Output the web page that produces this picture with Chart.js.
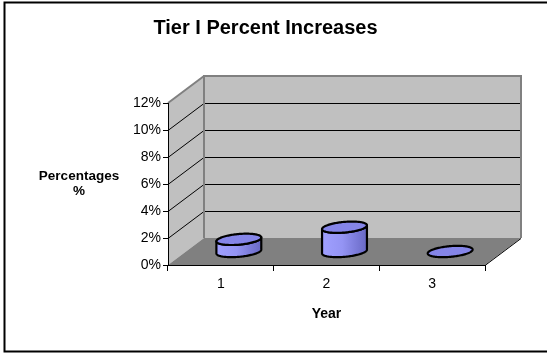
<!DOCTYPE html>
<html><head><meta charset="utf-8">
<script src="https://cdn.jsdelivr.net/npm/chart.js@4/dist/chart.umd.min.js"></script>
<style>html,body{margin:0;padding:0;background:#fff;overflow:hidden}</style>
</head><body>
<canvas id="c" width="547" height="354"></canvas>
<script>
// ---- data ----
const categories = ['1', '2', '3'];
const seriesValues = [0.9, 1.8, 0];
const yTickValues = [0, 2, 4, 6, 8, 10, 12];
const chartTitle = 'Tier I Percent Increases';
const yTitleLines = ['Percentages', '%'];
const xTitle = 'Year';

// ---- styling ----
const FONT = '"Liberation Sans", Arial, sans-serif';
const DX = 36, DY = -27;   // 3D depth offset

function poly(ctx, pts, fill) {
  ctx.beginPath();
  ctx.moveTo(pts[0][0], pts[0][1]);
  for (let i = 1; i < pts.length; i++) ctx.lineTo(pts[i][0], pts[i][1]);
  ctx.closePath();
  ctx.fillStyle = fill;
  ctx.fill();
}

const threeD = {
  id: 'threeD',
  beforeDraw(chart) {
    const ctx = chart.ctx;
    const { left, right } = chart.chartArea;
    const ys = chart.scales.y;
    const y0 = ys.getPixelForValue(ys.min), yT = ys.getPixelForValue(ys.max);
    const bl = left + DX, br = right + DX, bt = yT + DY, bb = y0 + DY;
    ctx.save();
    ctx.fillStyle = '#fff';
    ctx.fillRect(0, 0, chart.width, chart.height);
    // outer border
    ctx.strokeStyle = '#000'; ctx.lineWidth = 2;
    ctx.strokeRect(4.5, 2.5, chart.width + 20, 349);
    // walls
    poly(ctx, [[bl, bt], [br, bt], [br, bb], [bl, bb]], '#C0C0C0');
    poly(ctx, [[left, yT], [bl, bt], [bl, bb], [left, y0]], '#C0C0C0');
    poly(ctx, [[left, y0], [bl, bb], [br, bb], [right, y0]], '#808080');
    // gridlines
    ctx.strokeStyle = '#000'; ctx.lineWidth = 1;
    yTickValues.forEach(v => {
      if (v <= ys.min || v >= ys.max) return;
      const y = Math.round(ys.getPixelForValue(v)) + 0.5;
      ctx.beginPath();
      ctx.moveTo(left, y); ctx.lineTo(bl, y + DY); ctx.lineTo(br, y + DY);
      ctx.stroke();
    });
    // wall borders
    ctx.strokeStyle = '#808080'; ctx.lineWidth = 2;
    ctx.beginPath();
    ctx.moveTo(bl, bb); ctx.lineTo(bl, bt); ctx.lineTo(br, bt); ctx.lineTo(br, bb);
    ctx.moveTo(left, yT); ctx.lineTo(bl, bt);
    ctx.stroke();
    // floor right edge
    ctx.strokeStyle = '#000'; ctx.lineWidth = 1;
    ctx.beginPath();
    ctx.moveTo(right, y0 + 0.5); ctx.lineTo(br, bb + 0.5);
    ctx.stroke();
    ctx.restore();
  },
  afterDatasetsDraw(chart) {
    const ctx = chart.ctx;
    const xs = chart.scales.x, ys = chart.scales.y;
    const meta = chart.getDatasetMeta(0);
    const catW = xs.getPixelForValue(1) - xs.getPixelForValue(0);
    const a = 0.2 * catW;
    const c = 0.21 * Math.abs(DY);
    const b = c * DX / Math.abs(DY);
    const t0 = Math.atan2(b, a);
    const y0 = ys.getPixelForValue(0);
    const pt = (cx, cy, t) => [cx + a * Math.cos(t) + b * Math.sin(t), cy - c * Math.sin(t)];
    ctx.save();
    ctx.lineWidth = 2.2; ctx.strokeStyle = '#000'; ctx.lineJoin = 'round';
    meta.data.forEach((bar, i) => {
      const v = chart.data.datasets[0].data[i];
      const cx = bar.x + DX / 2;
      const cyB = y0 + DY / 2;
      const cyT = ys.getPixelForValue(v) + DY / 2;
      const N = 60;
      if (cyB - cyT > 0.5) {
        ctx.beginPath();
        let p = pt(cx, cyT, t0); ctx.moveTo(p[0], p[1]);
        for (let k = 0; k <= N; k++) { p = pt(cx, cyB, t0 - Math.PI * k / N); ctx.lineTo(p[0], p[1]); }
        for (let k = 0; k <= N; k++) { p = pt(cx, cyT, t0 - Math.PI + Math.PI * k / N); ctx.lineTo(p[0], p[1]); }
        ctx.closePath();
        const xl = cx - Math.hypot(a, b), xr = cx + Math.hypot(a, b);
        const g = ctx.createLinearGradient(xl, 0, xr, 0);
        g.addColorStop(0, '#A0A0FF');
        g.addColorStop(0.45, '#9494F4');
        g.addColorStop(1, '#6868C4');
        ctx.fillStyle = g;
        ctx.fill();
        ctx.stroke();
      }
      ctx.beginPath();
      for (let k = 0; k <= 2 * N; k++) {
        const p = pt(cx, cyT, Math.PI * k / N);
        if (k === 0) ctx.moveTo(p[0], p[1]); else ctx.lineTo(p[0], p[1]);
      }
      ctx.closePath();
      ctx.fillStyle = '#8585E8';
      ctx.fill();
      ctx.stroke();
    });
    ctx.restore();
  },
  afterDraw(chart) {
    const ctx = chart.ctx;
    ctx.save();
    ctx.fillStyle = '#000';
    ctx.font = 'bold 13.5px ' + FONT;
    ctx.textAlign = 'center'; ctx.textBaseline = 'middle';
    yTitleLines.forEach((t, i) => ctx.fillText(t, 79, 176 + i * 15));
    ctx.restore();
  }
};

new Chart(document.getElementById('c'), {
  type: 'bar',
  data: {
    labels: categories,
    datasets: [{ data: seriesValues, backgroundColor: 'rgba(0,0,0,0)', borderWidth: 0 }]
  },
  options: {
    responsive: false,
    animation: false,
    devicePixelRatio: 1,
    layout: { padding: { left: 46, right: 62, top: 0, bottom: 19 } },
    plugins: {
      legend: { display: false },
      tooltip: { enabled: false },
      title: {
        display: true, text: chartTitle, color: '#000',
        font: { family: FONT, size: 20, weight: 'bold' },
        padding: { top: 16, bottom: 63 }
      }
    },
    scales: {
      x: {
        grid: { offset: true, drawOnChartArea: false, tickColor: '#000', tickLength: 6 },
        border: { color: '#000', width: 1 },
        ticks: { color: '#000', font: { family: FONT, size: 14 }, padding: 5 },
        title: { display: true, text: xTitle, color: '#000', font: { family: FONT, size: 14, weight: 'bold' }, padding: { top: 0, bottom: 12 } },
        afterFit(s) { s.height = 70; }
      },
      y: {
        min: 0, max: 12,
        afterBuildTicks(s) { s.ticks = yTickValues.map(v => ({ value: v })); },
        ticks: { color: '#000', font: { family: FONT, size: 14 }, padding: 2, callback: v => v + '%' },
        grid: { drawOnChartArea: false, tickColor: '#000', tickLength: 5 },
        border: { color: '#000', width: 1 },
        afterFit(s) { s.width = 122; }
      }
    }
  },
  plugins: [threeD]
});
</script>
</body></html>
